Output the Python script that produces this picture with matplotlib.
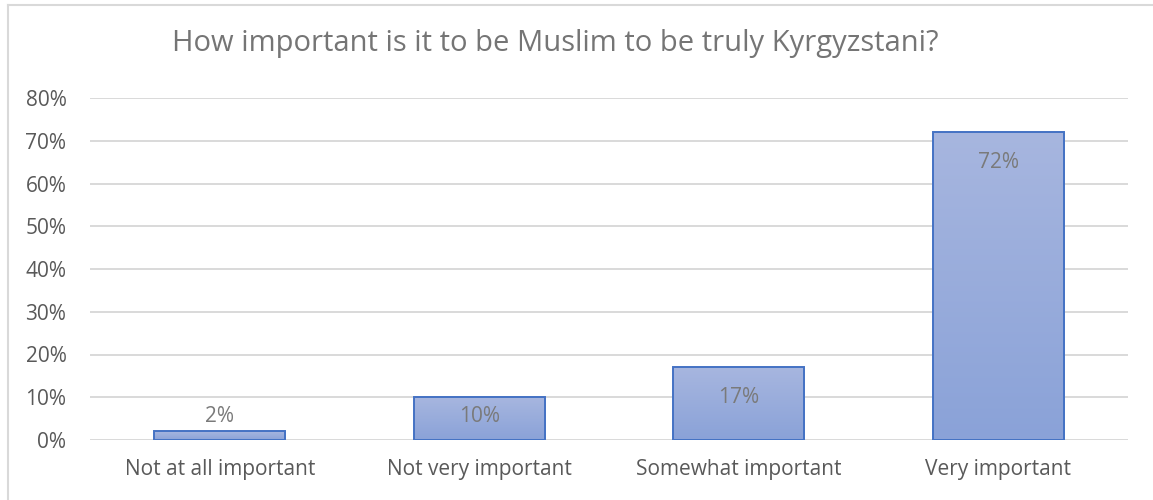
import numpy as np
import matplotlib
matplotlib.use("Agg")
import matplotlib.pyplot as plt
from matplotlib.lines import Line2D

# Survey responses (share of respondents, %)
categories = ["Not at all important", "Not very important", "Somewhat important", "Very important"]
shares = [2, 10, 17, 72]
yticks = [0, 10, 20, 30, 40, 50, 60, 70, 80]
title = "How important is it to be Muslim to be truly Kyrgyzstani?"

plt.rcParams['font.family'] = ['Open Sans', 'DejaVu Sans']

fig = plt.figure(figsize=(11.53, 5.0), dpi=100)
ax = fig.add_axes([90 / 1153, 0.12, 1038 / 1153, 0.684])

x = np.arange(len(categories))
bars = ax.bar(x, shares, width=0.505, color="none", edgecolor="#4472c4", linewidth=1.4, zorder=3)

# vertical gradient fill, lighter at the top
grad = np.linspace(0, 1, 256).reshape(-1, 1)
cmap = matplotlib.colors.LinearSegmentedColormap.from_list("barfill", ["#8aa2d8", "#a7b6df"])
for b in bars:
    x0, w, h = b.get_x(), b.get_width(), b.get_height()
    ax.imshow(grad, cmap=cmap, aspect="auto", origin="lower",
              extent=[x0, x0 + w, 0, h], zorder=2)

for xi, v in zip(x, shares):
    ax.text(xi, max(v - 7, 5.5), f"{v}%", ha="center", va="center",
            fontsize=15, color="#7a7a7a", zorder=4)

ax.set_xlim(-0.5, len(categories) - 0.5)
ax.set_ylim(0, 80)
ax.set_yticks(yticks)
ax.set_yticklabels([f"{t}%" for t in yticks])
ax.set_xticks(x)
ax.set_xticklabels(categories)
ax.tick_params(axis="both", length=0, labelsize=15, labelcolor="#595959")
ax.tick_params(axis="y", pad=17)
ax.tick_params(axis="x", pad=14)
ax.grid(axis="y", color="#d9d9d9", linewidth=1.4, zorder=0)
for s in ax.spines.values():
    s.set_visible(False)

fig.text(555 / 1153, 1 - 43 / 500, title, ha="center", va="center",
         fontsize=21, color="#757575")

# chart frame (top and left edges)
fig.add_artist(Line2D([8 / 1153, 1], [1 - 5 / 500, 1 - 5 / 500], color="#d9d9d9", linewidth=1.5))
fig.add_artist(Line2D([8 / 1153, 8 / 1153], [0, 1 - 5 / 500], color="#d9d9d9", linewidth=1.5))

fig.savefig("out.png", dpi=100)
